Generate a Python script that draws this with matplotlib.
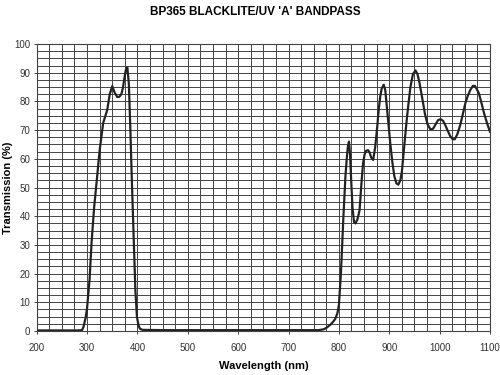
import matplotlib
matplotlib.use("Agg")
import matplotlib.pyplot as plt

plt.rcParams['font.family'] = ['Liberation Sans', 'DejaVu Sans']

# transmission curve (nm, %)
wavelength = [200, 280, 290, 293, 297, 300, 305, 309, 314, 319, 325, 332, 340,
              345, 350, 355, 360, 364, 368, 371, 374, 377, 380, 383, 386, 389,
              393, 396, 399, 402, 405, 410, 450, 500, 600, 700, 760, 770, 776,
              783, 789, 793, 797, 800, 804, 809, 813, 816, 818, 820, 822, 824,
              827, 830, 833, 837, 841, 845, 848, 851, 854, 858, 861, 864, 868,
              872, 876, 879, 882, 885, 889, 892, 895, 899, 902, 906, 910, 914,
              918, 922, 925, 929, 934, 938, 942, 947, 952, 956, 960, 965, 971,
              976, 982, 987, 992, 997, 1002, 1007, 1011, 1016, 1021, 1026, 1030,
              1035, 1041, 1046, 1051, 1056, 1061, 1066, 1070, 1074, 1078, 1083,
              1088, 1094, 1100]
transmission = [0.2, 0.2, 0.3, 1.5, 4.5, 8, 18, 31, 43, 52, 63, 72.5, 77,
                82.5, 85.3, 83, 81.5, 81.6, 82.5, 84.5, 88, 91, 91.8, 86, 70, 52,
                30, 14, 5, 2, 0.8, 0.4, 0.3, 0.3, 0.3, 0.3, 0.3, 0.6, 1.2,
                2.2, 3.3, 4.3, 6.2, 9, 20, 40, 54, 61, 64.5, 66, 62, 54,
                43, 38, 37.5, 39, 42, 52, 58.5, 61.5, 62.8, 63, 62.2, 60.5, 59.6,
                64, 71, 77, 81.6, 84.5, 85.8, 84, 78.5, 71, 65.4, 59, 54, 51.5,
                51, 52.5, 55.5, 63, 72.4, 79, 85, 89.5, 90.8, 89.5, 86.5, 81.6, 75.5,
                72, 70.2, 70.5, 72, 73.5, 73.8, 73.2, 71.8, 69.8, 67.9, 66.8, 66.8,
                68.5, 71.8, 75.5, 79.3, 82, 84, 85.4, 85.4, 84.2, 82.8, 79.5,
                76, 72.5, 69.4]

x_major = list(range(200, 1101, 100))
x_minor = list(range(200, 1101, 25))
y_major = list(range(0, 101, 10))
y_minor = [v * 2.5 for v in range(41)]

fig = plt.figure(figsize=(5, 3.75), dpi=100)
ax = fig.add_axes([0.0734, 0.1173, 0.9066, 0.7654])

ax.plot(wavelength, transmission, color='#222222', lw=1.6, solid_joinstyle='round', zorder=3)

ax.set_xlim(200, 1100)
ax.set_ylim(0, 100)
ax.set_xticks(x_major)
ax.set_xticks(x_minor, minor=True)
ax.set_yticks(y_major)
ax.set_yticks(y_minor, minor=True)
ax.grid(True, which='both', color='#444444', lw=0.7)
ax.set_axisbelow(True)
for s in ax.spines.values():
    s.set_color('#444444')
    s.set_linewidth(0.8)

ax.tick_params(which='major', length=2.5, width=0.7, color='#444444',
               labelsize=7, labelcolor='#333333')
ax.tick_params(axis='x', which='major', pad=6)
ax.tick_params(axis='y', which='major', pad=2)
ax.tick_params(which='minor', length=0)

ax.set_xlabel('Wavelength (nm)', fontsize=8, fontweight='bold')
ax.xaxis.set_label_coords(0.5, -0.105)
ax.set_ylabel('Transmission (%)', fontsize=8, fontweight='bold', va='center')
ax.yaxis.set_label_coords(-0.064, 0.5)
fig.text(0.51, 0.967, "BP365 BLACKLITE/UV 'A' BANDPASS", ha='center', va='center',
         fontsize=8.5, fontweight='bold')

fig.savefig('out.png', dpi=100)
